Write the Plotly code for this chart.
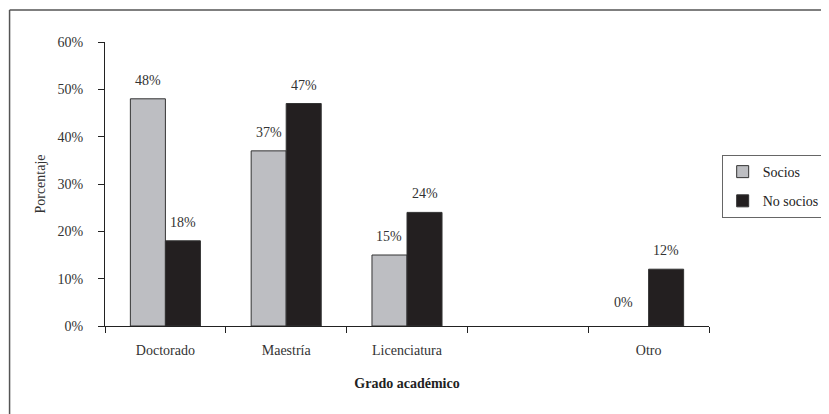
import plotly.graph_objects as go

# ─── DATA ───
grados = ["Doctorado", "Maestría", "Licenciatura", " ", "Otro"]
socios = [48, 37, 15, None, 0]
no_socios = [18, 47, 24, None, 12]

_FONT = "Times New Roman, Liberation Serif, serif"
_TXT = "#333333"
_GRAY = "#bdbec2"
_BLACK = "#231f20"

fig = go.Figure()
fig.add_trace(go.Bar(
    x=grados, y=socios, name="Socios", legendgroup="a",
    marker=dict(color=_GRAY,
                line=dict(color="#333", width=[0 if not v else 1 for v in socios])),
))
fig.add_trace(go.Bar(
    x=grados, y=no_socios, name="No socios", legendgroup="b",
    marker=dict(color=_BLACK, line=dict(color="#333", width=1)),
))

# value labels, a little above each bar (bars are 0.29 of a category wide)
for vals, dx in ((socios, -0.145), (no_socios, 0.145)):
    for i, v in enumerate(vals):
        if v is None:
            continue
        fig.add_annotation(
            x=i + dx, y=v, xref="x", yref="y", text=f"{v}%",
            showarrow=False, yanchor="bottom", yshift=9 if v else 14,
            xshift=-8 if v == 0 else 0,
            font=dict(family=_FONT, size=14, color=_TXT),
        )

fig.update_layout(
    width=821, height=406,
    paper_bgcolor="white", plot_bgcolor="white",
    font=dict(family=_FONT, size=14, color=_TXT),
    margin=dict(l=97, r=120, t=34, b=88, autoexpand=False),
    barmode="group", bargap=0.42, bargroupgap=0,
    showlegend=True,
    legend=dict(
        x=1.021, y=0.602, xanchor="left", yanchor="top",
        bordercolor="#666", borderwidth=1, bgcolor="white",
        font=dict(family=_FONT, size=14, color="#222"),
        itemwidth=30, tracegroupgap=8, traceorder="grouped",
    ),
    xaxis=dict(
        title=dict(text="<b>Grado académico</b>", standoff=21,
                   font=dict(family=_FONT, size=14, color="#222")),
        showline=True, linecolor="#222", linewidth=1,
        ticks="outside", tickson="boundaries", ticklen=6, tickcolor="#222",
        ticklabelstandoff=11,
        showgrid=False, tickfont=dict(family=_FONT, size=14, color=_TXT),
    ),
    yaxis=dict(
        title=dict(text="Porcentaje", standoff=8,
                   font=dict(family=_FONT, size=14, color=_TXT)),
        range=[0, 60], dtick=10, ticksuffix="%",
        showline=True, linecolor="#222", linewidth=1,
        ticks="outside", ticklen=6, tickcolor="#222",
        ticklabelstandoff=12,
        showgrid=False, zeroline=False,
        tickfont=dict(family=_FONT, size=14, color=_TXT),
    ),
)

# outer frame of the original figure (cut at right and bottom)
fig.add_shape(type="line", xref="paper", yref="paper",
              x0=-0.158, y0=1.113, x1=1.25, y1=1.113,
              line=dict(color="#555", width=1.5))
fig.add_shape(type="line", xref="paper", yref="paper",
              x0=-0.158, y0=1.113, x1=-0.158, y1=-0.35,
              line=dict(color="#555", width=1.5))

fig.write_html("out.html")
